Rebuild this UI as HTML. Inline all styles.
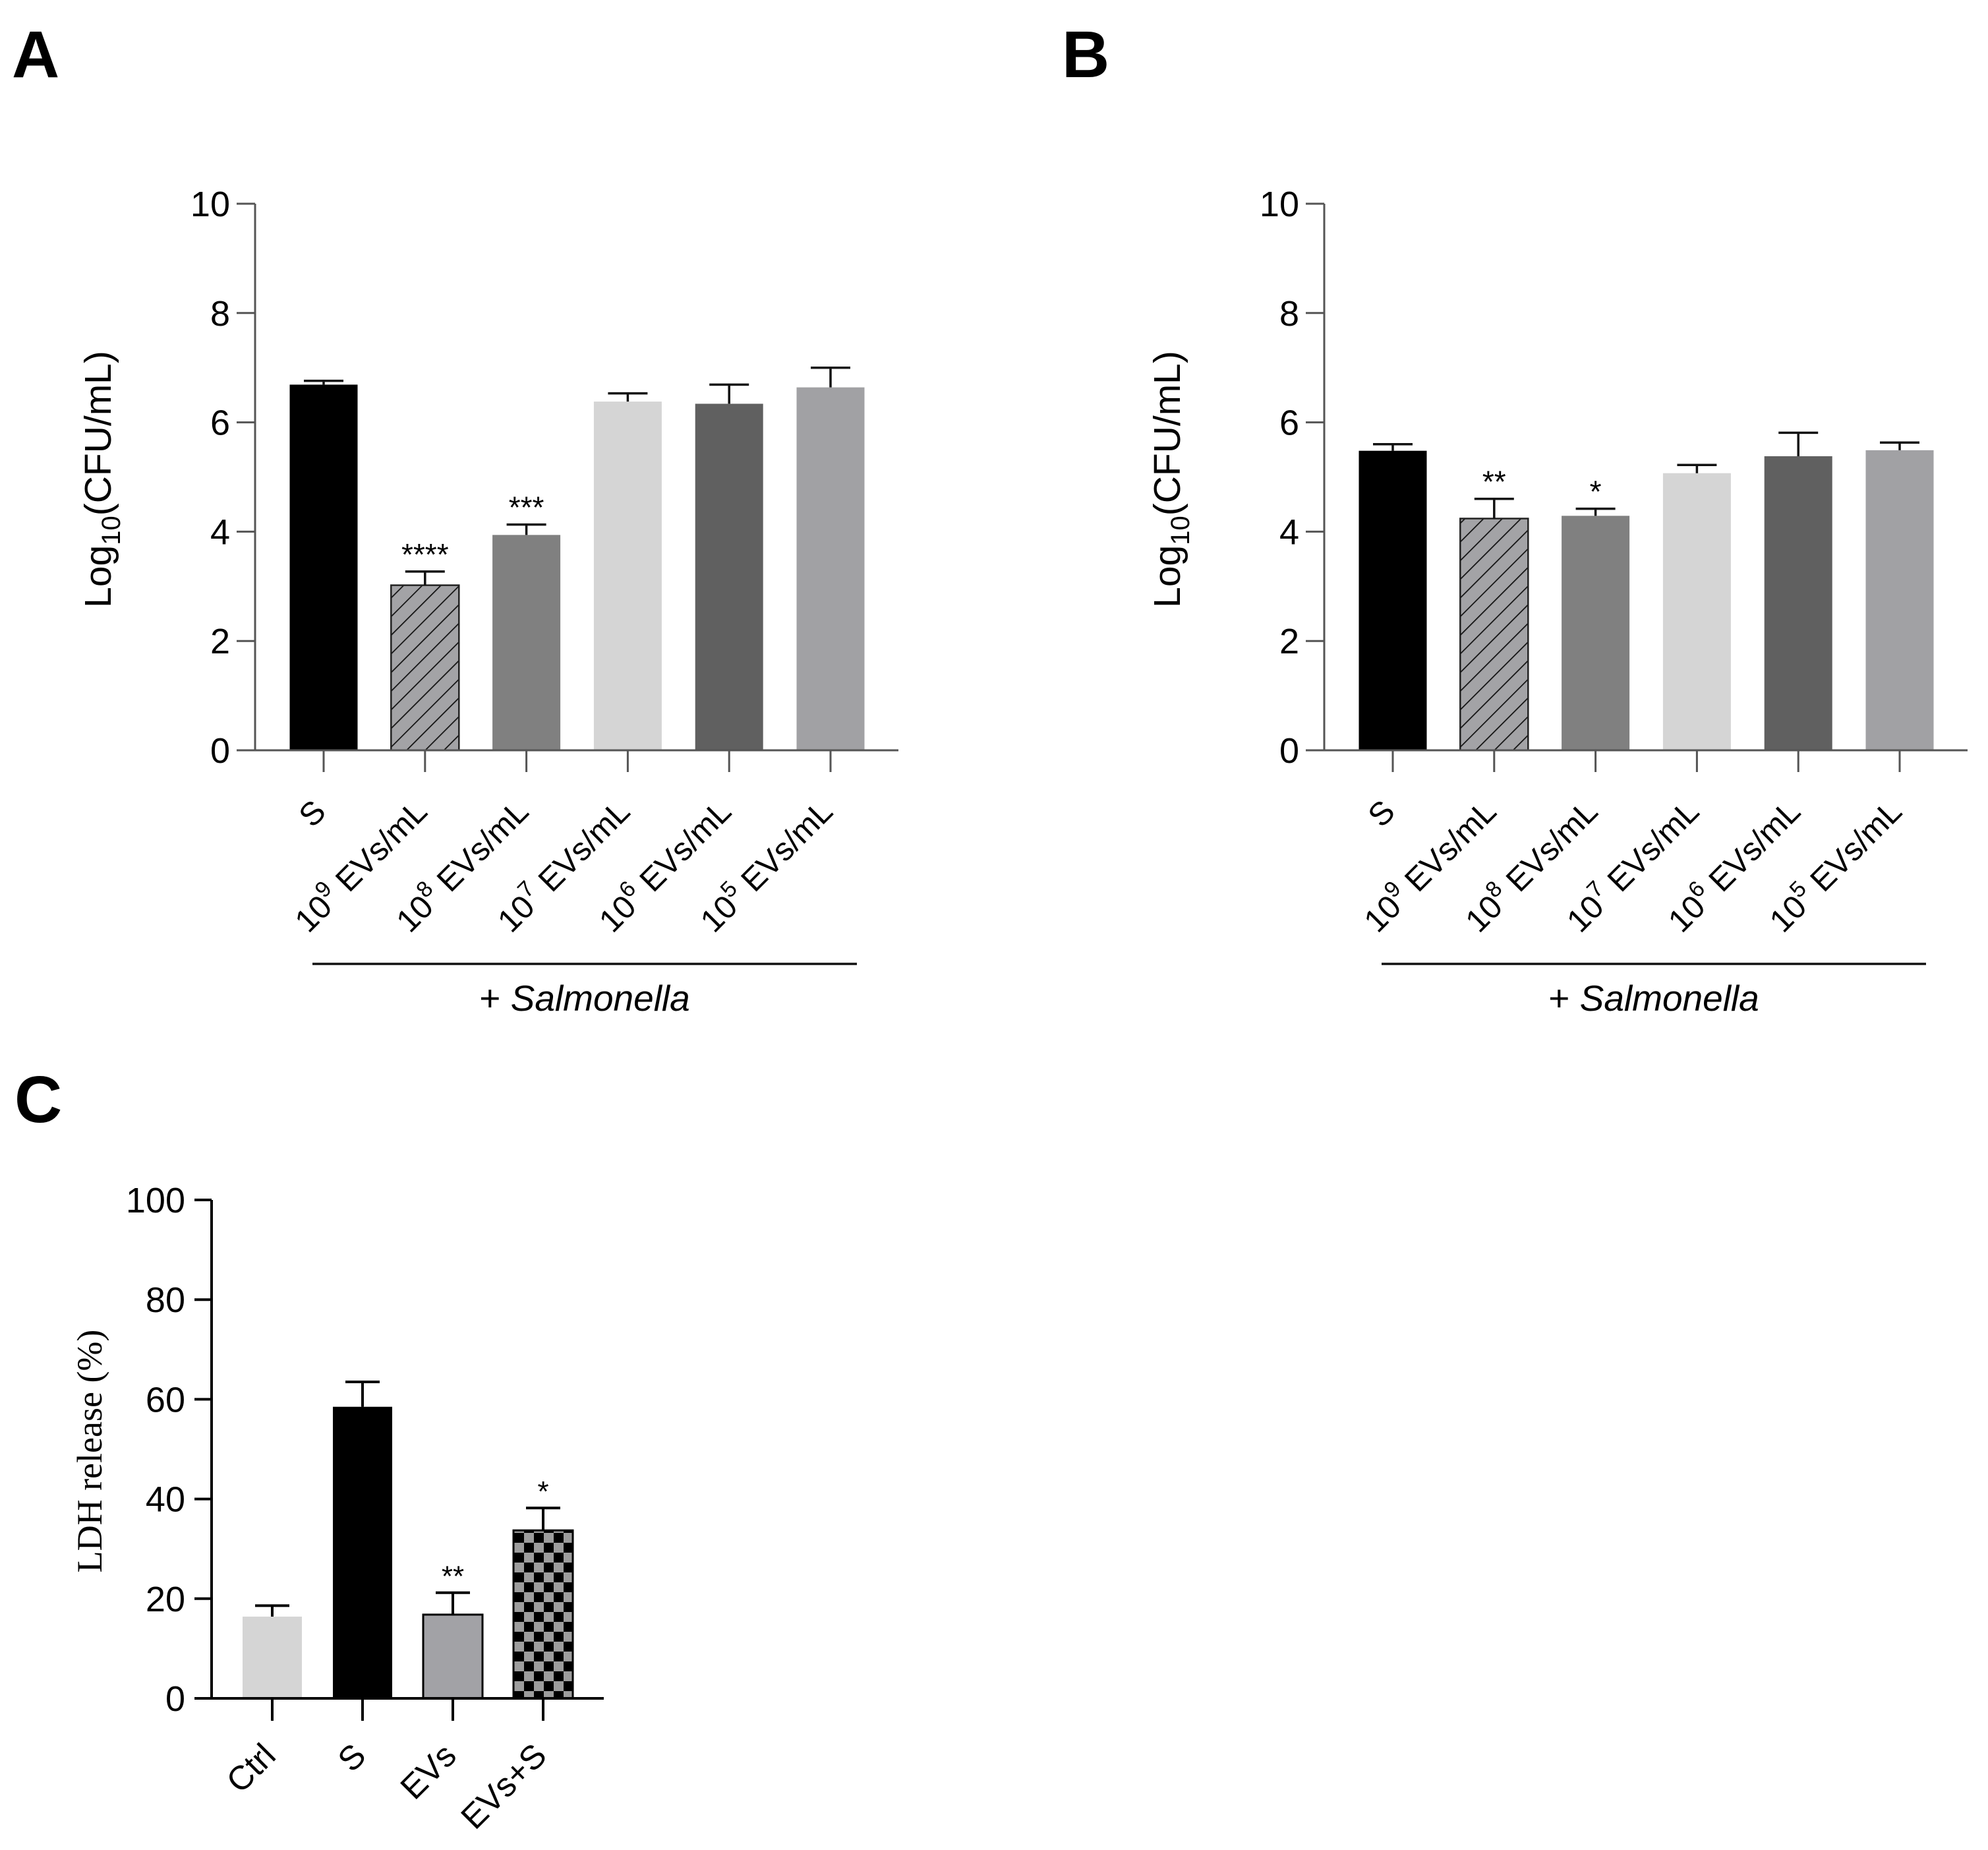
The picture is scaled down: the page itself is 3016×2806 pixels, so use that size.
<!DOCTYPE html>
<html><head><meta charset="utf-8"><style>
html,body{margin:0;padding:0;background:#fff;}
svg{display:block;font-family:"Liberation Sans",Arial,sans-serif;}
</style></head><body>
<svg id="fig" width="3016" height="2806" viewBox="0 0 3016 2806" xmlns="http://www.w3.org/2000/svg">
<defs>
<pattern id="hatch" patternUnits="userSpaceOnUse" width="20" height="20" patternTransform="rotate(45)">
<rect width="20" height="20" fill="#a3a3a6"/>
<line x1="0" y1="0" x2="0" y2="20" stroke="#111" stroke-width="3.5"/>
</pattern>
<pattern id="checker" patternUnits="userSpaceOnUse" width="30" height="30" x="0" y="0">
<rect width="30" height="30" fill="#000"/>
<rect width="15" height="15" fill="#9d9d9d"/>
<rect x="15" y="15" width="15" height="15" fill="#9d9d9d"/>
</pattern>
</defs>
<text x="18" y="117" font-size="100" font-weight="bold">A</text>
<text x="1611" y="117" font-size="100" font-weight="bold">B</text>
<text x="22" y="1702" font-size="100" font-weight="bold">C</text>
<g id="panelA"></g>
<g id="panelB" transform="translate(1622,0)"></g>
<g id="panelC"></g>
</svg>
<script>
const cfuCategories = ["S","9","8","7","6","5"];
const cfuFills = ["#000","url(#hatch)","#808080","#d5d5d5","#606060","#a1a1a4"];
const panelAValues = [6.69, 3.02, 3.94, 6.38, 6.34, 6.64];
const panelAErrors = [6.76, 3.27, 4.13, 6.53, 6.69, 7.0];
const panelAStars = ["", "****", "***", "", "", ""];
const panelBValues = [5.48, 4.24, 4.29, 5.07, 5.38, 5.49];
const panelBErrors = [5.60, 4.60, 4.42, 5.22, 5.81, 5.63];
const panelBStars = ["", "**", "*", "", "", ""];
const cfuTicks = [0, 2, 4, 6, 8, 10];

const ldhCategories = ["Ctrl","S","EVs","EVs+S"];
const ldhFills = ["#d5d5d5","#000","#a2a2a6","url(#checker)"];
const ldhValues = [16.4, 58.5, 16.8, 33.7];
const ldhErrors = [18.6, 63.5, 21.2, 38.2];
const ldhStars = ["", "", "**", "*"];
const ldhTicks = [0, 20, 40, 60, 80, 100];

const NS = "http://www.w3.org/2000/svg";
function mk(parent, tag, attrs, text) {
  const e = document.createElementNS(NS, tag);
  for (const k in attrs) e.setAttribute(k, attrs[k]);
  if (text !== undefined) e.textContent = text;
  parent.appendChild(e);
  return e;
}

function drawCfu(g, values, errors, stars, prefix) {
  const ax = 387, y0 = 1138, y10 = 309, xEnd = 1363;
  const ys = v => y0 - (v / 10) * (y0 - y10);
  const xs = i => 491 + i * 153.8;
  const bw = 103;
  values.forEach((v, i) => {
    const r = mk(g, "rect", {x: xs(i) - bw/2, y: ys(v), width: bw, height: y0 - ys(v), fill: cfuFills[i], stroke: i === 1 ? "#222" : "none", "stroke-width": 2.5});
    
    
    const e = mk(g, "path", {d: `M${xs(i)} ${ys(v)} V${ys(errors[i])} M${xs(i)-30} ${ys(errors[i])} H${xs(i)+30}`, stroke: "#111", "stroke-width": 3.5, fill: "none"});
    
    
    if (stars[i]) {
      const s = mk(g, "text", {x: xs(i), y: ys(errors[i]) - 10, "font-size": 46, "text-anchor": "middle"}, stars[i]);
      
      
    }
    const t = mk(g, "path", {d: `M${xs(i)} ${y0} V${y0 + 33}`, stroke: "#555", "stroke-width": 3});
    
    
    const lx = xs(i) + 6, ly = y0 + 96;
    const lab = mk(g, "text", {x: lx, y: ly, "font-size": 49, "text-anchor": "end", transform: `rotate(-45 ${lx} ${ly})`});
    
    
    if (cfuCategories[i] === "S") { lab.textContent = "S"; }
    else {
      mk(lab, "tspan", {}, "10");
      mk(lab, "tspan", {"font-size": 34, dy: -21}, cfuCategories[i]);
      mk(lab, "tspan", {dy: 21}, " EVs/mL");
    }
  });
  const axes = mk(g, "path", {d: `M${ax} ${y10} V${y0} H${xEnd}`, stroke: "#555", "stroke-width": 3, fill: "none"});
  
  
  cfuTicks.forEach(v => {
    const tk = mk(g, "path", {d: `M${ax - 28} ${ys(v)} H${ax}`, stroke: "#555", "stroke-width": 3});
    
    
    const tl = mk(g, "text", {x: ax - 38, y: ys(v) + 19, "font-size": 54, "text-anchor": "end"}, String(v));
    
    
  });
  const yt = mk(g, "text", {x: 0, y: 0, "font-size": 57, "text-anchor": "middle", transform: "translate(168 727) rotate(-90)"});
  
  
  mk(yt, "tspan", {}, "Log");
  mk(yt, "tspan", {"font-size": 40, dy: 14}, "10");
  mk(yt, "tspan", {dy: -14}, "(CFU/mL)");
  const br = mk(g, "path", {d: "M474 1462 H1300", stroke: "#111", "stroke-width": 3.5});
  
  
  const sl = mk(g, "text", {x: 887, y: 1533, "font-size": 55, "text-anchor": "middle"});
  
  
  mk(sl, "tspan", {}, "+ ");
  mk(sl, "tspan", {"font-style": "italic"}, "Salmonella");
}

drawCfu(document.getElementById("panelA"), panelAValues, panelAErrors, panelAStars, "panel-a");
drawCfu(document.getElementById("panelB"), panelBValues, panelBErrors, panelBStars, "panel-b");

(function () {
  const g = document.getElementById("panelC");
  const ax = 321, y0 = 2576, y100 = 1820, xEnd = 916;
  const ys = v => y0 - (v / 100) * (y0 - y100);
  const xs = i => 413 + i * 137;
  const bw = 90;
  ldhValues.forEach((v, i) => {
    const bordered = i >= 2;
    const r = mk(g, "rect", {x: xs(i) - bw/2, y: ys(v), width: bw, height: y0 - ys(v), fill: ldhFills[i], stroke: bordered ? "#000" : "none", "stroke-width": 3});
    
    
    const e = mk(g, "path", {d: `M${xs(i)} ${ys(v)} V${ys(ldhErrors[i])} M${xs(i)-26} ${ys(ldhErrors[i])} H${xs(i)+26}`, stroke: "#000", "stroke-width": 4, fill: "none"});
    
    
    if (ldhStars[i]) {
      const s = mk(g, "text", {x: xs(i), y: ys(ldhErrors[i]) - 10, "font-size": 44, "text-anchor": "middle"}, ldhStars[i]);
      
      
    }
    const t = mk(g, "path", {d: `M${xs(i)} ${y0} V${y0 + 34}`, stroke: "#000", "stroke-width": 4});
    
    
    const lx = xs(i) + 8, ly = y0 + 90;
    const lab = mk(g, "text", {x: lx, y: ly, "font-size": 51, "text-anchor": "end", transform: `rotate(-45 ${lx} ${ly})`}, ldhCategories[i]);
    
    
  });
  const axes = mk(g, "path", {d: `M${ax} ${y100} V${y0} H${xEnd}`, stroke: "#000", "stroke-width": 4, fill: "none"});
  
  
  ldhTicks.forEach(v => {
    const tk = mk(g, "path", {d: `M${ax - 26} ${ys(v)} H${ax}`, stroke: "#000", "stroke-width": 4});
    
    
    const tl = mk(g, "text", {x: ax - 40, y: ys(v) + 19, "font-size": 54, "text-anchor": "end"}, String(v));
    
    
  });
  const yt = mk(g, "text", {x: 0, y: 0, "font-size": 54, "text-anchor": "middle", "font-family": "Liberation Serif, serif", transform: "translate(154 2201) rotate(-90)"}, "LDH release (%)");
  
  
})();
</script>
</body></html>
